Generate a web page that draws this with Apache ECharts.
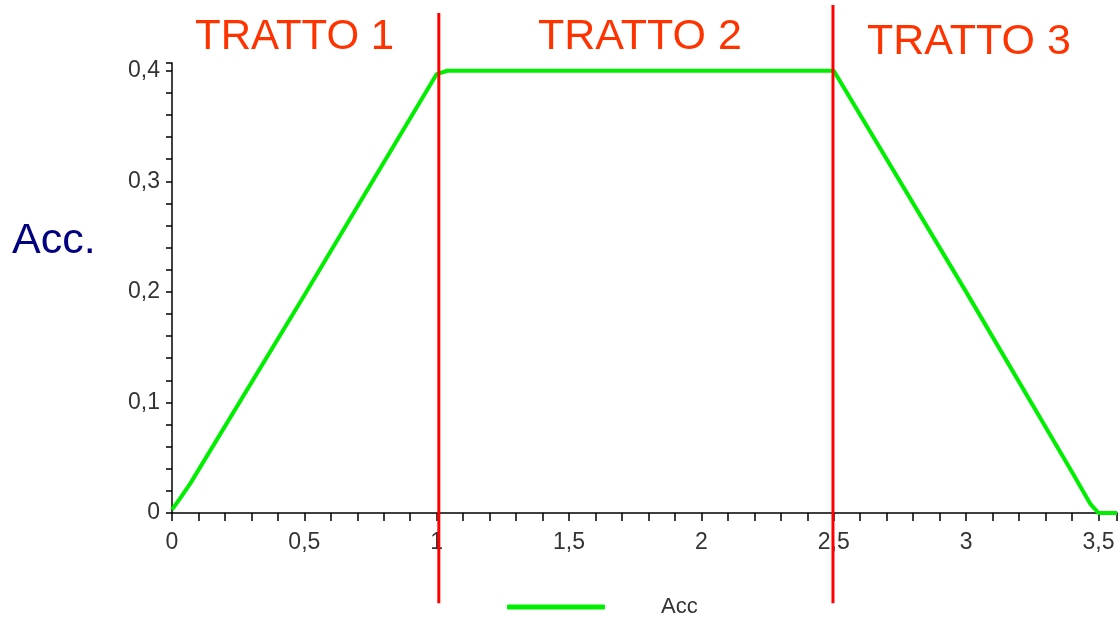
<!DOCTYPE html>
<html>
<head>
<meta charset="utf-8">
<script src="https://cdn.jsdelivr.net/npm/echarts@6/dist/echarts.min.js"></script>
<style>
html,body{margin:0;padding:0;background:#fff;}
#c{width:1120px;height:618px;}
</style>
</head>
<body>
<div id="c"></div>
<script>
// Data
const accX = [0, 0.03, 0.07, 0.5, 1.0, 1.04, 2.5, 3.0, 3.4, 3.47, 3.5, 3.57];
const accY = [0.003, 0.013, 0.027, 0.197, 0.397, 0.4, 0.4, 0.2, 0.037, 0.008, 0, 0];
const dividerX = [1.008, 2.497];
const dividerBottom = [-0.0816, -0.0816];
const dividerTop = [0.4522, 0.4595];
const sectionLabels = ['TRATTO 1', 'TRATTO 2', 'TRATTO 3'];
const seriesName = 'Acc';
const yTitle = 'Acc.';

const fmt = v => String(+v.toFixed(3)).replace('.', ',');

const chart = echarts.init(document.getElementById('c'));
const accData = accX.map((x, i) => [x, accY[i]]);
const dividerSeries = dividerX.map((x, i) => ({
  type: 'line',
  name: 'div' + i,
  data: [[x, dividerBottom[i]], [x, dividerTop[i]]],
  symbol: 'none',
  clip: false,
  silent: true,
  z: 5,
  lineStyle: { color: '#ff0000', width: 3 }
}));

chart.setOption({
  animation: false,
  backgroundColor: '#ffffff',
  grid: { left: 172, right: 0, top: 63, bottom: 105, containLabel: false },
  xAxis: {
    type: 'value', min: 0, max: 3.57, interval: 0.1,
    axisLine: { show: true, onZero: false, lineStyle: { color: '#000', width: 1.5 } },
    axisTick: { show: true, length: 8, lineStyle: { color: '#000', width: 1.5 } },
    splitLine: { show: false },
    axisLabel: {
      margin: 18, color: '#333', fontSize: 23, fontFamily: 'Liberation Sans, Arial',
      formatter: v => (Math.abs(v * 2 - Math.round(v * 2)) < 1e-6 && v < 3.56) ? fmt(v) : ''
    }
  },
  yAxis: {
    type: 'value', min: 0, max: 0.407, interval: 0.02,
    axisLine: { show: true, lineStyle: { color: '#000', width: 1.5 } },
    axisTick: { show: true, length: 6, lineStyle: { color: '#000', width: 1.5 } },
    splitLine: { show: false },
    axisLabel: {
      margin: 12, color: '#333', fontSize: 23, fontFamily: 'Liberation Sans, Arial',
      formatter: v => (Math.abs(v * 10 - Math.round(v * 10)) < 1e-6 && v < 0.405) ? fmt(v) : ''
    }
  },
  legend: {
    data: [seriesName],
    left: 502, top: 591,
    icon: 'roundRect',
    itemWidth: 98, itemHeight: 5,
    textStyle: { color: '#333', fontSize: 22, fontFamily: 'Liberation Sans, Arial', padding: [0, 0, 0, 51] }
  },
  graphic: [
    { type: 'text', left: 195, top: 16, style: { text: sectionLabels[0], fill: '#ff3300', font: '42px "Liberation Sans", Arial' } },
    { type: 'text', left: 538, top: 16, style: { text: sectionLabels[1], fill: '#ff3300', font: '43px "Liberation Sans", Arial' } },
    { type: 'text', left: 867, top: 21, style: { text: sectionLabels[2], fill: '#ff3300', font: '43px "Liberation Sans", Arial' } },
    { type: 'text', left: 12, top: 220, style: { text: yTitle, fill: '#000080', font: '43px "Liberation Sans", Arial' } }
  ],
  series: [
    {
      type: 'line', name: seriesName, data: accData, symbol: 'none', clip: false, z: 4,
      color: '#00ee00',
      lineStyle: { color: '#00ee00', width: 4 }
    },
    ...dividerSeries
  ]
});
</script>
</body>
</html>
